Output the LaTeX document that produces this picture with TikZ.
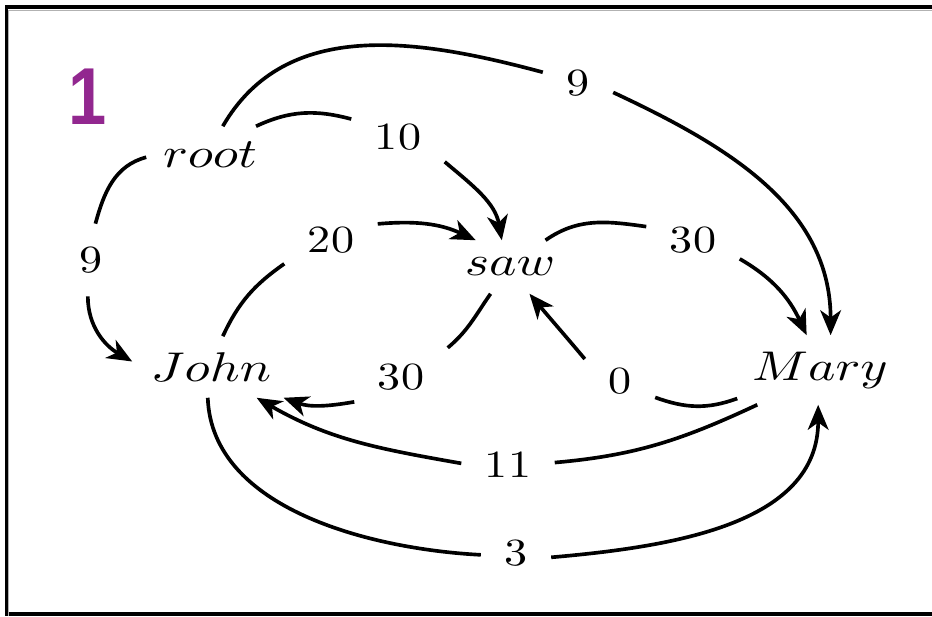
\documentclass[tikz,border=0pt]{standalone}
\usepackage{fontspec}
\usepackage{graphicx}
\usetikzlibrary{arrows.meta}
\newfontfamily\badgefont{Liberation Sans}
\definecolor{badgepurple}{HTML}{92278F}
\newcommand{\wordtext}[1]{\scalebox{1.35}[1.08]{$#1$}}
\newcommand{\numtext}[1]{\scalebox{1.2}[1]{#1}}
\begin{document}
\begin{tikzpicture}[x=0.26pt,y=0.26pt,
  word/.style={inner sep=0pt, font=\fontsize{10}{12}\selectfont},
  lbl/.style={inner sep=0pt, minimum height=18.5pt, font=\fontsize{10}{12}\selectfont},
  two/.style={lbl, minimum width=23.9pt},
  one/.style={lbl, minimum width=17.9pt},
  edge/.style={line width=0.95pt},
  arc/.style={edge, -{Stealth[length=6.5pt,width=5.4pt,inset=1.9pt]}}]
\useasboundingbox (0,0) rectangle (932,616);
% frame
\fill[black] (5,0) rectangle (7.5,611);
\fill[black] (5,606.5) rectangle (932,611);
\fill[black] (5,0) rectangle (932,4.5);
\draw[gray!60, line width=0.3pt] (8.3,0) -- (8.3,605.8) -- (932,605.8);
% badge
\node[inner sep=0pt, text=badgepurple, xscale=0.85, transform shape,
      font=\badgefont\bfseries\fontsize{21}{24}\selectfont] (badge) at (88,97.5+422) {1};
% words
\node[word, minimum width=32.76pt, minimum height=14.56pt] (root) at (210,461) {\wordtext{root}};
\node[word, minimum width=28.6pt,  minimum height=13.52pt] (saw)  at (510,349) {\wordtext{saw}};
\node[word, minimum width=40.56pt, minimum height=15.6pt]  (John) at (211,249) {\wordtext{John}};
\node[word, minimum width=42.64pt, minimum height=17.68pt] (Mary) at (820,246) {\wordtext{Mary}};
% weights
\node[one] (l9a)  at (578,533) {\numtext{9}};
\node[two] (l10)  at (398,479) {\numtext{10}};
\node[one] (l9b)  at (91,356)  {\numtext{9}};
\node[two] (l20)  at (331,376) {\numtext{20}};
\node[two] (l30r) at (693,376) {\numtext{30}};
\node[two] (l30b) at (401,239) {\numtext{30}};
\node[one] (l0)   at (620,235) {\numtext{0}};
\node[two] (l11)  at (508,151) {\numtext{11}};
\node[one] (l3)   at (516,63)  {\numtext{3}};
% root -> Mary
\draw[edge] (root.66) to[out=60,in=165] (l9a.163);
\draw[arc]  (l9a.-15) to[out=-25,in=90] (Mary.73);
% root -> saw
\draw[edge] (root.32) to[out=25,in=165] (l10.159);
\draw[arc]  (l10.-28) to[out=-40,in=100] (saw.107);
% root -> John
\draw[edge] (root.182) to[out=195,in=75] (l9b.83);
\draw[arc]  (l9b.-95) to[out=-90,in=150] (John.176);
% John -> saw
\draw[edge] (John.69) to[out=65,in=215] (l20.207);
\draw[arc]  (l20.19) to[out=5,in=155] (saw.142);
% saw -> Mary
\draw[edge] (saw.37) to[out=35,in=172] (l30r.164);
\draw[arc]  (l30r.-22) to[out=-30,in=115] (Mary.111);
% saw -> John
\draw[edge] (saw.234) to[out=235,in=40] (l30b.32);
\draw[arc]  (l30b.208) to[out=190,in=-20] (John.-23);
% Mary -> saw
\draw[edge] (Mary.199) to[out=200,in=-20] (l0.-25);
\draw[arc]  (l0.148) to[out=130,in=-50] (saw.-54);
% Mary -> John
\draw[edge] (Mary.209) to[out=205,in=5] (l11.3);
\draw[arc]  (l11.178) to[out=170,in=-30] (John.-34);
% John -> Mary
\draw[edge] (John.264) to[out=-88,in=177,looseness=0.9] (l3.183);
\draw[arc]  (l3.-7) to[out=5,in=-90] (Mary.267);
\end{tikzpicture}
\end{document}
